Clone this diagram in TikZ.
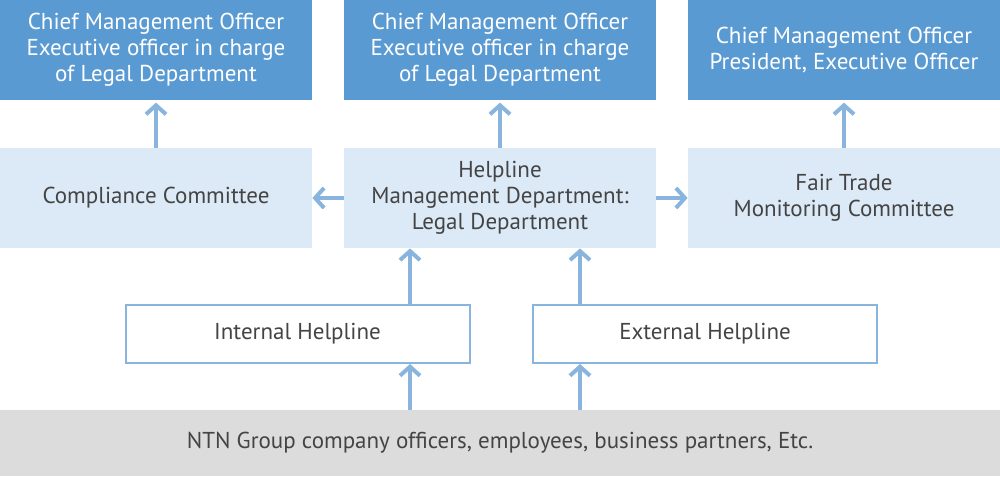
\documentclass[tikz,border=0pt]{standalone}
\usepackage{fontspec}
\setmainfont{PT Sans}
\usetikzlibrary{arrows.meta,positioning}
\definecolor{topblue}{RGB}{90,154,210}
\definecolor{midblue}{RGB}{220,233,246}
\definecolor{linkblue}{RGB}{136,180,222}
\definecolor{basegray}{RGB}{220,220,220}
\definecolor{txtgray}{RGB}{68,68,68}

\begin{document}
\begin{tikzpicture}[x=0.5pt,y=-0.5pt,
    officer/.style={rectangle, fill=topblue, text=white, minimum width=156pt, minimum height=50pt, inner sep=0pt, align=center, font=\fontsize{11.5}{13}\selectfont},
    dept/.style={rectangle, fill=midblue, text=txtgray, minimum width=156pt, minimum height=50pt, inner sep=0pt, align=center, font=\fontsize{11.5}{13}\selectfont},
    helpline/.style={rectangle, draw=linkblue, line width=1pt, fill=white, text=txtgray, minimum width=172pt, minimum height=29pt, inner sep=0pt, font=\fontsize{11.5}{13}\selectfont},
    link/.style={draw=linkblue, line width=2pt, -{Straight Barb[length=4.5pt,width=10pt]}},
]
    \useasboundingbox (0,0) rectangle (1000,476);
    % Top row
    \node[officer] (o1) at (156,50) {Chief Management Officer\\Executive officer in charge\\of Legal Department};
    \node[officer] (o2) at (500,50) {Chief Management Officer\\Executive officer in charge\\of Legal Department};
    \node[officer] (o3) at (844,50) {Chief Management Officer\\President, Executive Officer};

    % Middle row
    \node[dept] (cc) at (156,198) {Compliance Committee};
    \node[dept] (hm) at (500,198) {Helpline\\Management Department:\\Legal Department};
    \node[dept] (ft) at (844,198) {Fair Trade\\Monitoring Committee};

    % Helplines
    \node[helpline] (ih) at (297.5,334) {Internal Helpline};
    \node[helpline] (eh) at (705,334) {External Helpline};

    % Base
    \node[rectangle, fill=basegray, text=txtgray, minimum width=500pt, minimum height=33pt, inner sep=0pt, font=\fontsize{11.5}{13}\selectfont] (ng) at (500,443) {NTN Group company officers, employees, business partners, Etc.};

    % Arrows
    \coordinate (a1) at (410,410); \coordinate (a2) at (580,410);
    \coordinate (b1) at (410,304); \coordinate (b2) at (580,304);
    \draw[link] (cc.north) -- ++(0,-45);
    \draw[link] (hm.north) -- ++(0,-45);
    \draw[link] (ft.north) -- ++(0,-45);
    \draw[link] (hm.west) -- (cc.east);
    \draw[link] (hm.east) -- (ft.west);
    \draw[link] (a1) -- (a1 |- ih.south);
    \draw[link] (a2) -- (a2 |- eh.south);
    \draw[link] (b1) -- (b1 |- hm.south);
    \draw[link] (b2) -- (b2 |- hm.south);
\end{tikzpicture}
\end{document}
